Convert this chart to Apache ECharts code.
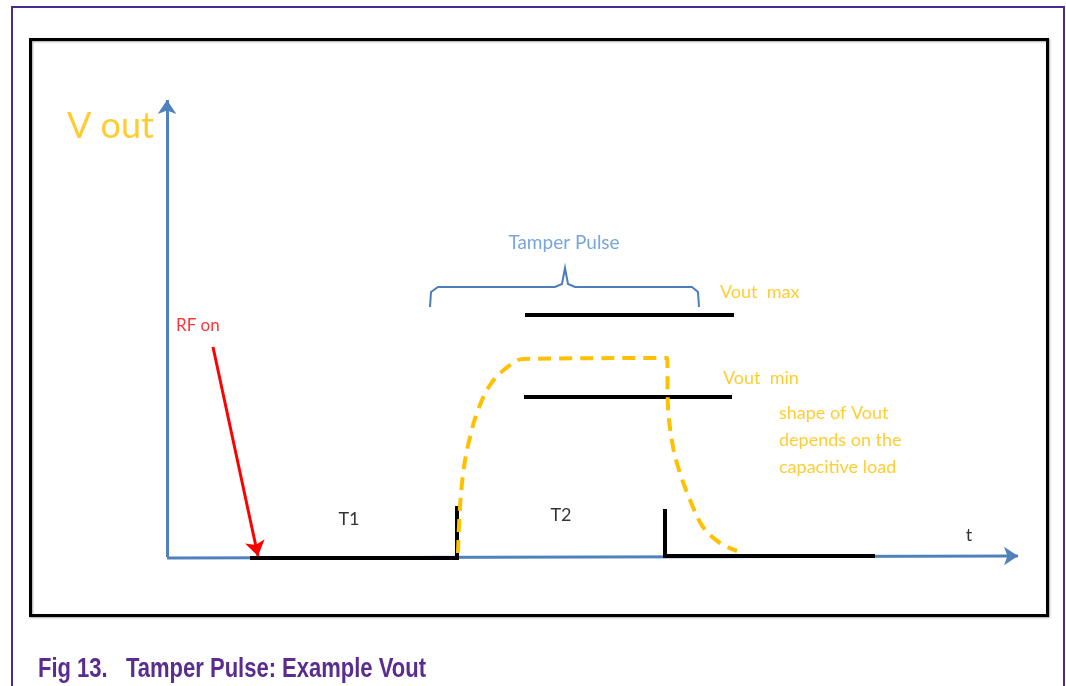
<!DOCTYPE html>
<html>
<head>
<meta charset="utf-8">
<title>Tamper Pulse: Example Vout</title>
<script src="https://cdn.jsdelivr.net/npm/echarts@6/dist/echarts.min.js"></script>
<style>
  html, body { margin: 0; padding: 0; background: #fff; }
  #chart { width: 1066px; height: 686px; }
</style>
</head>
<body>
<div id="chart"></div>
<script>
// diagram units: origin at the corner of the t / Vout axes
const axisT = [[0, -1], [851, 1]];
const axisV = [[0, 0], [0, 457]];
const rfOnArrow = [[46, 210], [91, 1]];
const t1Trace = [[83, -1], [290, -1], [290, 51]];
const t2Trace = [[498, 48], [498, 1], [708, 1]];
const voutMaxLevel = [[358, 242], [567, 242]];
const voutMinLevel = [[357, 160], [565, 160]];
const voutShape = [
  [291, 4], [293, 50], [297, 90], [303, 120], [311, 147], [323, 172],
  [338, 188], [356, 198], [500, 199], [501, 150], [506, 110], [513, 84],
  [523, 57], [536, 30], [553, 14], [570, 6]
];
const pulseBrace = [
  [263, 250], [264, 265], [271, 270], [388, 270], [395, 273], [398, 289],
  [401, 273], [408, 270], [525, 270], [531, 265], [532, 250]
];
const noteTexts = [
  'V out', 'Tamper Pulse', 'Vout  max', 'Vout  min',
  'shape of Vout\ndepends on the\ncapacitive load', 'RF on', 'T1', 'T2', 't'
];
const notePoints = [
  [-100, 431], [397, 314], [553, 265], [556, 179],
  [612, 117], [9, 231], [182, 38], [394, 42], [802, 22]
];
const captionText = 'Fig 13.   Tamper Pulse: Example Vout';

const orange = '#FFC000';
const axisBlue = '#4F81BD';
const noteStyles = [
  { color: orange, fontSize: 36, align: 'left' },
  { color: '#558ED5', fontSize: 19, align: 'center' },
  { color: orange, fontSize: 18, align: 'left' },
  { color: orange, fontSize: 18, align: 'left' },
  { color: orange, fontSize: 18, align: 'left', lineHeight: 27 },
  { color: '#FF0000', fontSize: 17, align: 'left' },
  { color: '#000', fontSize: 18, align: 'center' },
  { color: '#000', fontSize: 18, align: 'center' },
  { color: '#000', fontSize: 18, align: 'center' }
];

const chart = echarts.init(document.getElementById('chart'), null, { renderer: 'canvas' });

function trace(data, color, width, dash) {
  return {
    type: 'line',
    data: data,
    symbol: 'none',
    silent: true,
    lineStyle: { color: color, width: width, type: dash || 'solid', cap: 'butt', join: 'miter' }
  };
}

function arrow(coords, color, width, head) {
  return {
    type: 'lines',
    coordinateSystem: 'cartesian2d',
    silent: true,
    symbol: ['none', 'arrow'],
    symbolSize: head,
    lineStyle: { color: color, width: width, opacity: 1, curveness: 0 },
    data: [{ coords: coords }]
  };
}

const option = {
  animation: false,
  backgroundColor: '#fff',
  grid: { left: 0, right: 0, top: 0, bottom: 0 },
  xAxis: { type: 'value', min: -167, max: 899, show: false },
  yAxis: { type: 'value', min: -129, max: 557, show: false },
  graphic: [
    {
      type: 'polyline',
      shape: { points: [[12, 686], [12, 7], [1064, 7], [1064, 686]] },
      style: { stroke: '#4E2A8E', lineWidth: 2, fill: null }
    },
    {
      type: 'rect',
      shape: { x: 30.5, y: 39.5, width: 1017, height: 576 },
      style: {
        stroke: '#000', lineWidth: 3, fill: null,
        shadowColor: 'rgba(0,0,0,0.35)', shadowBlur: 2, shadowOffsetX: 1, shadowOffsetY: 1
      }
    },
    {
      type: 'text',
      x: 38,
      y: 669,
      scaleY: 1.25,
      style: {
        text: captionText,
        font: 'bold 22px "Liberation Sans", Arial, sans-serif',
        fill: '#5B2C8F',
        textVerticalAlign: 'middle'
      }
    }
  ],
  series: [
    arrow(axisV, axisBlue, 3, 14),
    arrow(axisT, axisBlue, 3, 14),
    trace(pulseBrace, '#4A7EBB', 2),
    trace(voutMaxLevel, '#000', 4),
    trace(voutMinLevel, '#000', 4),
    trace(t1Trace, '#000', 4),
    trace(t2Trace, '#000', 4),
    Object.assign(trace(voutShape, orange, 4, [13, 8]), { smooth: 0.35 }),
    arrow(rfOnArrow, '#FF0000', 3, 15),
    {
      type: 'scatter',
      silent: true,
      symbolSize: 0,
      data: notePoints.map(function (p, i) {
        const s = noteStyles[i];
        return {
          value: p,
          label: {
            show: true,
            position: 'inside',
            formatter: noteTexts[i],
            color: s.color,
            fontSize: s.fontSize,
            fontFamily: 'Lato, "Open Sans", sans-serif',
            align: s.align,
            verticalAlign: 'middle',
            lineHeight: s.lineHeight || Math.round(s.fontSize * 1.2)
          }
        };
      })
    }
  ]
};

chart.setOption(option);
</script>
</body>
</html>
